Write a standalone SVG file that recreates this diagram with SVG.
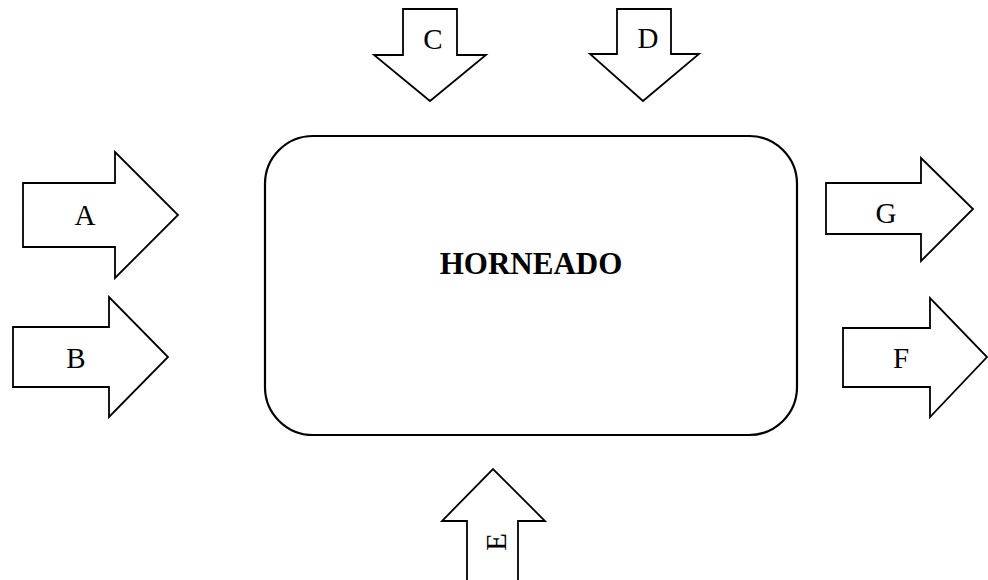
<svg xmlns="http://www.w3.org/2000/svg" width="988" height="580" viewBox="0 0 988 580">
<style>
.arrow{fill:#fff;stroke:#000;stroke-width:1.8;stroke-linejoin:miter}
.box{fill:#fff;stroke:#000;stroke-width:2.2}
.lbl{font-family:"Liberation Serif","Times New Roman",serif;font-size:29px;fill:#000;text-anchor:middle}
.title{font-family:"Liberation Serif","Times New Roman",serif;font-size:31px;font-weight:bold;fill:#000;text-anchor:middle}
</style>
<rect width="988" height="580" fill="#fff"/>
<g id="connectors">
<g id="arrow-A"><polygon class="arrow" points="23,183 115,183 115,152 178,215 115,278 115,247 23,247"/><text class="lbl" x="85" y="225">A</text></g>
<g id="arrow-B"><polygon class="arrow" points="13,327 109,327 109,297 168,357 109,417 109,387 13,387"/><text class="lbl" x="76" y="368">B</text></g>
<g id="arrow-C"><polygon class="arrow" points="403,9 457,9 457,55 486,55 430,101 374,55 403,55"/><text class="lbl" x="433" y="49">C</text></g>
<g id="arrow-D"><polygon class="arrow" points="617,9 671,9 671,54 699,54 643,101 590,54 617,54"/><text class="lbl" x="648" y="48">D</text></g>
<g id="arrow-E"><polygon class="arrow" points="467,582 467,521 442,521 493,469 545,521 518,521 518,582"/><text class="lbl" transform="translate(506,542) rotate(-90)">E</text></g>
<g id="arrow-G"><polygon class="arrow" points="826,183 921,183 921,158 973,209 921,261 921,234 826,234"/><text class="lbl" x="886" y="223">G</text></g>
<g id="arrow-F"><polygon class="arrow" points="843,328 930,328 930,298 987,357 930,417 930,387 843,387"/><text class="lbl" x="901" y="368">F</text></g>
</g>
<g id="node-horneado">
<rect class="box" x="265" y="136" width="532" height="299" rx="48" ry="48"/>
<text class="title" x="531" y="274">HORNEADO</text>
</g>
</svg>
